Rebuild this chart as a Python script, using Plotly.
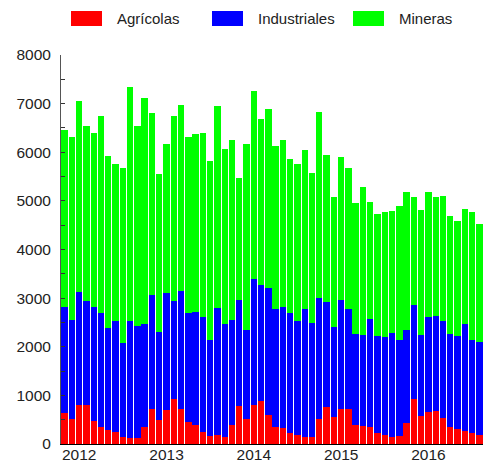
import plotly.graph_objects as go

months = [f"{2011 + (10 + i) // 12}-{(10 + i) % 12 + 1:02d}" for i in range(58)]

agricolas = [630, 510, 810, 800, 480, 360, 290, 250, 150, 130, 120, 340, 720, 490, 700, 920,
             710, 460, 390, 250, 170, 180, 140, 390, 790, 510, 800, 880, 590, 360, 320, 220,
             180, 150, 150, 520, 770, 560, 730, 730, 400, 380, 340, 220, 180, 150, 170, 430,
             920, 580, 660, 680, 540, 360, 300, 270, 220, 180]
industriales = [2190, 2050, 2320, 2140, 2330, 2330, 2100, 2280, 1930, 2390, 2310, 2130, 2350, 1810,
                2410, 2020, 2440, 2230, 2330, 2360, 1970, 2610, 2330, 2150, 2170, 1830, 2590, 2380,
                2620, 2410, 2490, 2470, 2350, 2630, 2330, 2490, 2150, 1850, 2240, 2040, 1860, 1870,
                2230, 2010, 2020, 2130, 1970, 1910, 1940, 1660, 1950, 1960, 1990, 1910, 1920, 2190,
                1920, 1910]
mineras = [3630, 3760, 3920, 3610, 3590, 4050, 3530, 3230, 3590, 4830, 4100, 4640, 3740, 3260,
           3060, 3810, 3830, 3630, 3650, 3790, 3670, 4170, 3590, 3710, 2520, 3840, 3880, 3430,
           3670, 3350, 3440, 3170, 3230, 3270, 3090, 3820, 3020, 2660, 2930, 2910, 2700, 3040,
           2410, 2500, 2570, 2520, 2760, 2850, 2220, 2570, 2570, 2430, 2570, 2410, 2360, 2370,
           2630, 2440]

year_ticks = ["2012-01", "2013-01", "2014-01", "2015-01", "2016-01"]
year_labels = ["2012", "2013", "2014", "2015", "2016"]

series_names = ["Agrícolas", "Industriales", "Mineras"]
series_colors = ["#ff0000", "#0000ff", "#00ff00"]

W, H = 483, 464
ML, MR, MT, MB = 61, 0, 55, 20
PW, PH = W - ML - MR, H - MT - MB
FONT = "Liberation Sans, Arial, sans-serif"

fig = go.Figure()
for name, vals, col in zip(series_names, [agricolas, industriales, mineras], series_colors):
    fig.add_trace(go.Bar(x=months, y=vals, name=name, marker=dict(color=col, line=dict(width=0)),
                         showlegend=False))

def px_x(p):
    return (p - ML) / PW

def px_y(p):
    return (H - MB - p) / PH

shapes = []
annotations = []
legend_swatch_left = [71, 212, 353]
legend_text_left = [115, 256, 397]
for name, col, sx, tx in zip(series_names, series_colors, legend_swatch_left, legend_text_left):
    shapes.append(dict(type="rect", xref="paper", yref="paper",
                       x0=px_x(sx), x1=px_x(sx + 31), y0=px_y(26), y1=px_y(11),
                       fillcolor=col, line=dict(width=0)))
    annotations.append(dict(text=name, xref="paper", yref="paper", x=px_x(tx), y=px_y(18.5),
                            xanchor="left", yanchor="middle", showarrow=False,
                            font=dict(family=FONT, size=15, color="#222222")))

fig.update_layout(
    width=W, height=H,
    margin=dict(l=ML, r=MR, t=MT, b=MB, autoexpand=False),
    paper_bgcolor="white", plot_bgcolor="white",
    barmode="stack", bargap=0.12,
    font=dict(family=FONT, size=15, color="#222222"),
    shapes=shapes, annotations=annotations,
    xaxis=dict(type="category", tickmode="array", tickvals=year_ticks, ticktext=year_labels,
               showline=True, linecolor="#000000", linewidth=1, ticks="", showgrid=False,
               zeroline=False, tickfont=dict(size=15.5), range=[-0.5, 57.5],
               ticklabelstandoff=-4),
    yaxis=dict(range=[0, 8000], tickmode="linear", tick0=0, dtick=1000, showline=True,
               linecolor="#555555", linewidth=1, ticks="inside", ticklen=4, tickcolor="#333333",
               showgrid=False, zeroline=False, tickfont=dict(size=15.5), ticklabelstandoff=6,
               minor=dict(dtick=500, ticks="inside", ticklen=4, tickcolor="#333333")),
)

fig.write_html(
    "out.html",
    config={"displayModeBar": False},
    post_script="document.body.style.margin='0';document.body.style.overflow='hidden';",
)
